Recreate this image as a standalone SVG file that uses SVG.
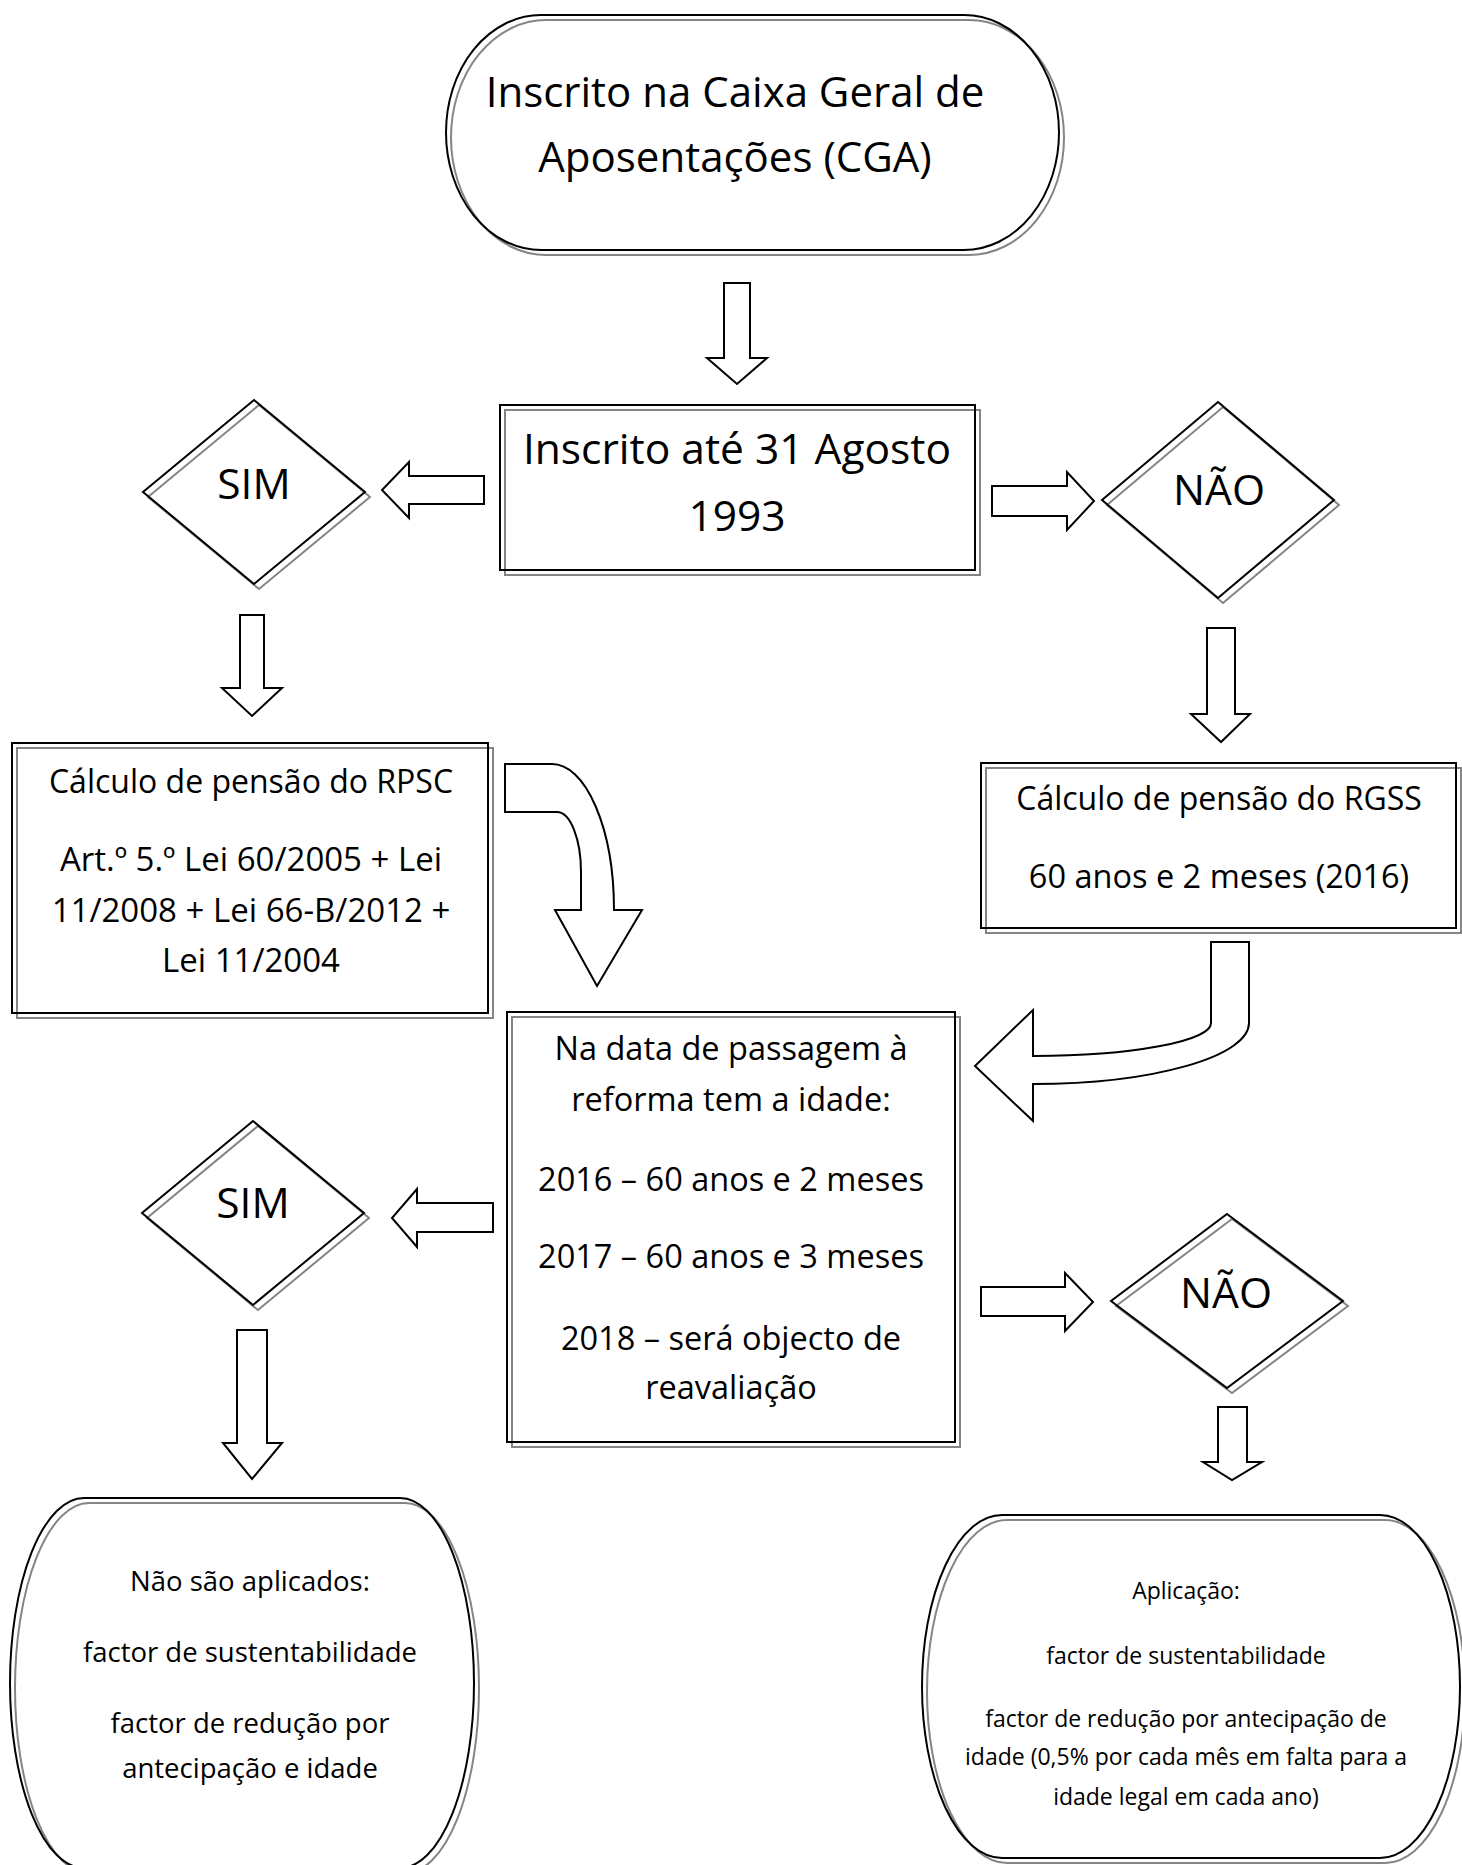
<svg xmlns="http://www.w3.org/2000/svg" width="1462" height="1865" viewBox="0 0 1462 1865">
<style>
.blk{fill:none;stroke:#000;stroke-width:2}
.gry{fill:none;stroke:#858585;stroke-width:2}
.arr{fill:#fff;stroke:#000;stroke-width:2;stroke-linejoin:miter}
text{font-family:"Open Sans","Liberation Sans",sans-serif;fill:#000;text-anchor:middle}
.t42{font-size:42px}
.t43{font-size:42.5px}
.t32{font-size:32px}
.t33{font-size:33px}
.t325{font-size:32.5px}
.t27{font-size:27.5px}
.t23{font-size:23px}
</style>
<rect width="1462" height="1865" fill="#fff"/>
<g id="connectors">
<polygon class="arr" points="724,283 750,283 750,358 767,358 737,384 707,358 724,358"/>
<polygon class="arr" points="484,476 484,504 409,504 409,518 382,490 409,462 409,476"/>
<polygon class="arr" points="992,486 1067,486 1067,472 1094,501 1067,530 1067,516 992,516"/>
<polygon class="arr" points="240,615 264,615 264,688 282,688 252,716 222,688 240,688"/>
<polygon class="arr" points="1207,628 1235,628 1235,714 1250,714 1221,742 1191,714 1207,714"/>
<path class="arr" d="M505,764 H552 A62,146 0 0 1 614,910 H642 L597,986 L555,910 H581 V872 A24,60 0 0 0 557,812 H505 Z"/>
<path class="arr" d="M1211,942 H1249 V1023 A216,61 0 0 1 1033,1084 V1121 L975,1066 L1033,1010 V1056 A178,33 0 0 0 1211,1023 Z"/>
<polygon class="arr" points="493,1203 493,1232 417,1232 417,1247 392,1218 417,1189 417,1203"/>
<polygon class="arr" points="237,1330 267,1330 267,1443 282,1443 252,1479 223,1443 237,1443"/>
<polygon class="arr" points="981,1287 1065,1287 1065,1273 1093,1302 1065,1331 1065,1316 981,1316"/>
<polygon class="arr" points="1218,1407 1247,1407 1247,1462 1262,1462 1232,1480 1203,1462 1218,1462"/>
</g>
<g id="n-cga">
<path class="gry" transform="translate(5,5)" d="M541,15 H964 A95,117.5 0 0 1 964,250 H541 A95,117.5 0 0 1 541,15 Z"/>
<path class="blk" d="M541,15 H964 A95,117.5 0 0 1 964,250 H541 A95,117.5 0 0 1 541,15 Z"/>
<text class="t42" x="735" y="107">Inscrito na Caixa Geral de</text>
<text class="t42" x="735" y="172">Aposentações (CGA)</text>
</g>
<g id="n-1993">
<rect class="gry" x="505" y="410" width="475" height="165"/>
<rect class="blk" x="500" y="405" width="475" height="165"/>
<text class="t43" x="737" y="464">Inscrito até 31 Agosto</text>
<text class="t43" x="737" y="531">1993</text>
</g>
<g id="n-sim1">
<polygon class="gry" transform="translate(5,5)" points="254,400 365,492 254,584 143,492"/>
<polygon class="blk" points="254,400 365,492 254,584 143,492"/>
<text class="t43" x="254" y="499">SIM</text>
</g>
<g id="n-nao1">
<polygon class="gry" transform="translate(5,5)" points="1218,402 1334,500 1218,598 1102,500"/>
<polygon class="blk" points="1218,402 1334,500 1218,598 1102,500"/>
<text class="t43" x="1219" y="505">NÃO</text>
</g>
<g id="n-rpsc">
<rect class="gry" x="17" y="748" width="476" height="270"/>
<rect class="blk" x="12" y="743" width="476" height="270"/>
<text class="t32" x="251" y="793">Cálculo de pensão do RPSC</text>
<text class="t33" x="251" y="871">Art.º 5.º Lei 60/2005 + Lei</text>
<text class="t33" x="251" y="922">11/2008 + Lei 66-B/2012 +</text>
<text class="t33" x="251" y="972">Lei 11/2004</text>
</g>
<g id="n-rgss">
<rect class="gry" x="986" y="768" width="475" height="165"/>
<rect class="blk" x="981" y="763" width="475" height="165"/>
<text class="t32" x="1219" y="810">Cálculo de pensão do RGSS</text>
<text class="t325" x="1219" y="888">60 anos e 2 meses (2016)</text>
</g>
<g id="n-idade">
<rect class="gry" x="512" y="1017" width="448" height="430"/>
<rect class="blk" x="507" y="1012" width="448" height="430"/>
<text class="t325" x="731" y="1060">Na data de passagem à</text>
<text class="t325" x="731" y="1111">reforma tem a idade:</text>
<text class="t325" x="731" y="1191">2016 – 60 anos e 2 meses</text>
<text class="t325" x="731" y="1268">2017 – 60 anos e 3 meses</text>
<text class="t325" x="731" y="1350">2018 – será objecto de</text>
<text class="t325" x="731" y="1399">reavaliação</text>
</g>
<g id="n-sim2">
<polygon class="gry" transform="translate(5,5)" points="253,1121 364,1213 253,1305 142,1213"/>
<polygon class="blk" points="253,1121 364,1213 253,1305 142,1213"/>
<text class="t43" x="253" y="1218">SIM</text>
</g>
<g id="n-nao2">
<polygon class="gry" transform="translate(5,5)" points="1227,1214 1343,1301 1227,1388 1111,1301"/>
<polygon class="blk" points="1227,1214 1343,1301 1227,1388 1111,1301"/>
<text class="t43" x="1226" y="1308">NÃO</text>
</g>
<g id="n-nao-aplicados">
<path class="gry" transform="translate(5,5)" d="M84,1498 H400 A74,185 0 0 1 400,1868 H84 A74,185 0 0 1 84,1498 Z"/>
<path class="blk" d="M84,1498 H400 A74,185 0 0 1 400,1868 H84 A74,185 0 0 1 84,1498 Z"/>
<text class="t27" x="250" y="1591">Não são aplicados:</text>
<text class="t27" x="250" y="1662">factor de sustentabilidade</text>
<text class="t27" x="250" y="1733">factor de redução por</text>
<text class="t27" x="250" y="1778">antecipação e idade</text>
</g>
<g id="n-aplicacao">
<path class="gry" transform="translate(5,5)" d="M1002,1515 H1380 A80,171.5 0 0 1 1380,1858 H1002 A80,171.5 0 0 1 1002,1515 Z"/>
<path class="blk" d="M1002,1515 H1380 A80,171.5 0 0 1 1380,1858 H1002 A80,171.5 0 0 1 1002,1515 Z"/>
<text class="t23" x="1186" y="1599">Aplicação:</text>
<text class="t23" x="1186" y="1664">factor de sustentabilidade</text>
<text class="t23" x="1186" y="1727">factor de redução por antecipação de</text>
<text class="t23" x="1186" y="1765">idade (0,5% por cada mês em falta para a</text>
<text class="t23" x="1186" y="1805">idade legal em cada ano)</text>
</g>
</svg>
